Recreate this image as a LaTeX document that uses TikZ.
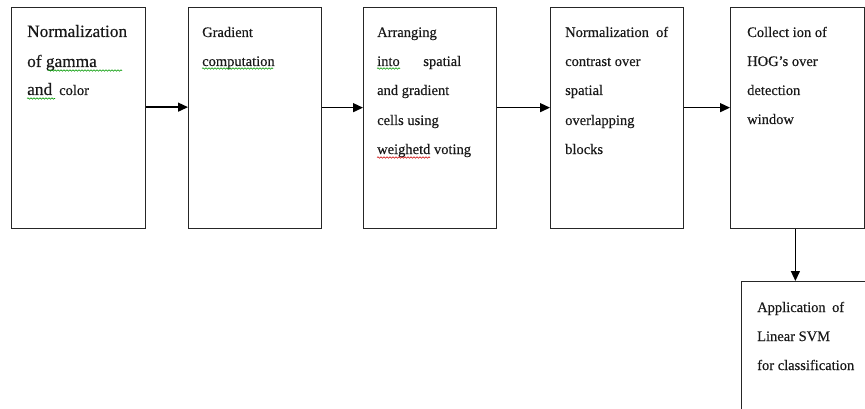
\documentclass[tikz,border=0pt]{standalone}
\usepackage{fontspec}
\setmainfont{Liberation Serif}[FakeBold=0.4]
\usetikzlibrary{arrows.meta,decorations.pathmorphing}
\tikzset{
  box/.style={draw=black!85, line width=1.3pt, rectangle, anchor=north west, inner sep=0pt},
  txt/.style={anchor=base west, inner sep=0pt, text=black!90, font=\fontsize{14.5}{14.5}\selectfont},
  bigtxt/.style={anchor=base west, inner sep=0pt, text=black!90, font=\fontsize{17.3}{17.3}\selectfont},
  arr/.style={draw=black, line width=1.3pt, -{Triangle[length=10pt,width=9pt]}},
  squig/.style={line width=0.6pt, decorate, decoration={snake, amplitude=0.7pt, segment length=3pt}},
  sqgreen/.style={squig, draw=green!60!black},
  sqred/.style={squig, draw=red!80!black}
}
\begin{document}
\begin{tikzpicture}[x=1pt,y=-1pt]
\useasboundingbox (0,0) rectangle (865,409);
\clip (0,0) rectangle (865,409);
% boxes
\node[box, minimum width=134pt, minimum height=221pt] (b1) at (11,7) {};
\node[box, minimum width=133pt, minimum height=221pt] (b2) at (188,7) {};
\node[box, minimum width=133pt, minimum height=221pt] (b3) at (363,7) {};
\node[box, minimum width=133pt, minimum height=221pt] (b4) at (550,7) {};
\node[box, minimum width=133.5pt, minimum height=221pt] (b5) at (730,7) {};
\node[box, minimum width=160pt, minimum height=160pt] (b6) at (741,281) {};
% texts box 1
\node[bigtxt] (t1a) at (27,37) {Normalization};
\node[bigtxt] (t1b) at (27,67) {of gamma};
\node[bigtxt] (t1c) at (27,95) {and};
\node[txt] (t1d) at (59,95) {color};
% box 2
\node[txt] (t2a) at (202,37) {Gradient};
\node[txt] (t2b) at (202,66) {computation};
% box 3
\node[txt] (t3a) at (377,37) {Arranging};
\node[txt] (t3b) at (377,66) {\makebox[84pt][s]{into\hfill spatial}};
\node[txt] (t3c) at (377,95) {and gradient};
\node[txt] (t3d) at (377,125) {cells using};
\node[txt] (t3e) at (377,154) {weighetd voting};
% box 4
\node[txt] (t4a) at (565,37) {\makebox[103pt][s]{Normalization\hfill of}};
\node[txt] (t4b) at (565,66) {contrast over};
\node[txt] (t4c) at (565,95) {spatial};
\node[txt] (t4d) at (565,125) {overlapping};
\node[txt] (t4e) at (565,154) {blocks};
% box 5
\node[txt] (t5a) at (747,37) {Collect ion of};
\node[txt] (t5b) at (747,66) {HOG’s over};
\node[txt] (t5c) at (747,95) {detection};
\node[txt] (t5d) at (747,124) {window};
% box 6
\node[txt] (t6a) at (757,312) {\makebox[87pt][s]{Application\hfill of}};
\node[txt] (t6b) at (757,341) {Linear SVM};
\node[txt] (t6c) at (757,370) {for classification};
% spell-check squiggles
\draw[sqgreen] (48,70.5) -- (122,70.5);
\draw[sqgreen] (27,98.5) -- (55,98.5);
\draw[sqgreen] (202,68.5) -- (273,68.5);
\draw[sqgreen] (377,68.5) -- (400,68.5);
\draw[sqred] (377,157.5) -- (430,157.5);
% arrows
\draw[arr] ([yshift=11pt]b1.east) -- ([yshift=11pt]b2.west);
\draw[arr] ([yshift=10.5pt]b2.east) -- ([yshift=10.5pt]b3.west);
\draw[arr] ([yshift=10.5pt]b3.east) -- ([yshift=10.5pt]b4.west);
\draw[arr] ([yshift=10.5pt]b4.east) -- ([yshift=10.5pt]b5.west);
\draw[arr] ([xshift=-2pt]b5.south) -- ([xshift=-2pt]b5.south |- b6.north);
\end{tikzpicture}
\end{document}
